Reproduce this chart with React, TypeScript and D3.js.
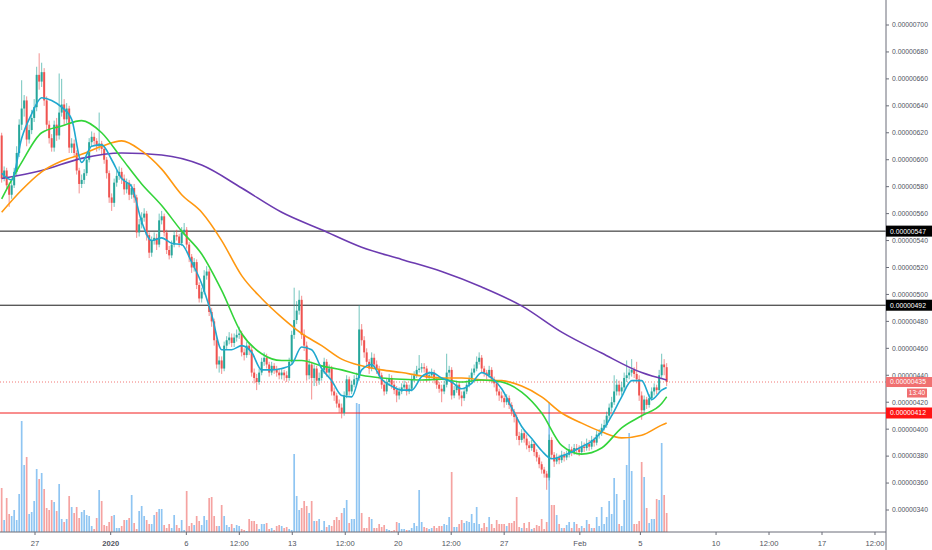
import React from "react";
import * as d3 from "d3";

// 4h candles, prices in units of 1e-8
const firstOpen = 618;
const closes = [
  586, 592, 581, 574, 581, 591, 605, 626, 638, 644,
  615, 622, 631, 639, 663, 658, 665, 644, 626, 616,
  609, 626, 618, 635, 641, 630, 638, 609, 612, 605,
  592, 582, 585, 590, 600, 613, 617, 614, 610, 612,
  608, 600, 590, 572, 568, 583, 588, 591, 586, 578,
  583, 574, 579, 572, 546, 552, 557, 560, 544, 531,
  540, 542, 537, 555, 558, 546, 533, 529, 537, 544,
  543, 538, 546, 548, 537, 528, 520, 524, 507, 497,
  502, 514, 517, 487, 480, 466, 448, 451, 445, 462,
  466, 468, 464, 468, 470, 471, 457, 455, 462, 459,
  442, 438, 435, 442, 450, 453, 448, 442, 447, 444,
  442, 440, 442, 440, 438, 450, 470, 481, 488, 496,
  470, 462, 440, 448, 438, 445, 436, 438, 444, 450,
  442, 445, 428, 425, 419, 416, 412, 425, 437, 428,
  433, 437, 438, 474, 466, 457, 450, 445, 453, 448,
  444, 440, 433, 428, 435, 438, 433, 429, 425, 428,
  431, 433, 428, 430, 437, 440, 444, 445, 446, 445,
  438, 440, 442, 437, 433, 430, 428, 433, 442, 444,
  425, 429, 433, 425, 423, 428, 433, 437, 442, 445,
  450, 453, 445, 442, 440, 444, 437, 434, 428, 425,
  423, 420, 423, 418, 413, 409, 395, 392, 397, 393,
  388, 386, 389, 383, 379, 374, 370, 367, 364, 392,
  381, 376, 379, 377, 381, 379, 381, 385, 383, 386,
  385, 383, 387, 386, 389, 387, 392, 390, 396, 397,
  401, 403, 410, 416, 420, 428, 433, 428, 431, 438,
  440, 442, 444, 441, 437, 425, 414, 422, 418, 423,
  428, 431, 429, 440, 448, 446, 435,
];
const highs = [
  620, 595, 594, 583, 584, 594, 610, 630, 659, 648,
  647, 626, 637, 645, 669, 679, 672, 668, 647, 629,
  619, 629, 631, 664, 660, 645, 642, 640, 616, 615,
  607, 594, 589, 593, 603, 616, 621, 620, 616, 635,
  614, 610, 602, 592, 575, 586, 592, 595, 594, 589,
  586, 585, 582, 582, 574, 556, 561, 564, 562, 546,
  543, 546, 545, 560, 562, 560, 548, 536, 540, 547,
  548, 545, 550, 553, 550, 539, 530, 527, 526, 509,
  505, 518, 521, 519, 490, 482, 468, 454, 454, 465,
  469, 472, 471, 471, 474, 476, 473, 460, 465, 464,
  461, 445, 441, 445, 453, 457, 456, 450, 450, 449,
  447, 445, 445, 444, 443, 453, 473, 505, 495, 503,
  499, 474, 465, 452, 450, 448, 447, 442, 447, 453,
  452, 448, 447, 431, 427, 422, 419, 428, 440, 439,
  436, 440, 442, 492, 478, 469, 460, 452, 457, 456,
  451, 447, 442, 436, 438, 441, 440, 436, 432, 431,
  434, 436, 435, 433, 440, 443, 447, 455, 449, 449,
  447, 443, 445, 444, 439, 435, 433, 436, 456, 447,
  446, 432, 436, 435, 428, 431, 436, 440, 445, 448,
  454, 457, 455, 447, 444, 447, 446, 439, 436, 430,
  428, 425, 426, 425, 420, 415, 411, 398, 400, 399,
  396, 391, 392, 391, 385, 381, 376, 372, 369, 396,
  394, 383, 382, 381, 384, 383, 384, 389, 387, 389,
  389, 388, 391, 390, 393, 392, 395, 394, 399, 400,
  404, 407, 413, 419, 424, 440, 437, 436, 435, 442,
  451, 445, 452, 446, 450, 440, 428, 425, 424, 426,
  431, 434, 433, 444, 456, 452, 449,
];
const lows = [
  583, 584, 578, 565, 571, 579, 588, 602, 622, 632,
  610, 612, 619, 628, 636, 652, 654, 640, 622, 612,
  606, 606, 614, 615, 632, 626, 627, 605, 605, 602,
  589, 575, 579, 582, 588, 598, 610, 611, 606, 607,
  604, 597, 586, 568, 562, 565, 580, 585, 582, 574,
  575, 570, 571, 568, 542, 543, 549, 554, 540, 527,
  528, 537, 533, 535, 552, 543, 530, 526, 527, 535,
  540, 535, 536, 544, 534, 524, 516, 517, 504, 494,
  494, 500, 511, 484, 476, 462, 445, 442, 441, 443,
  459, 463, 461, 461, 465, 467, 454, 451, 453, 455,
  439, 434, 429, 433, 440, 447, 445, 439, 440, 441,
  439, 437, 437, 436, 435, 436, 448, 467, 478, 485,
  467, 458, 436, 437, 422, 432, 432, 433, 436, 441,
  439, 439, 425, 421, 416, 412, 408, 410, 423, 425,
  426, 431, 434, 436, 462, 453, 447, 441, 443, 445,
  441, 437, 430, 425, 426, 432, 430, 426, 420, 422,
  426, 429, 425, 426, 428, 435, 438, 442, 442, 442,
  435, 436, 438, 434, 430, 427, 420, 426, 431, 439,
  422, 423, 427, 422, 417, 421, 426, 431, 435, 440,
  443, 448, 442, 439, 437, 438, 434, 431, 425, 421,
  420, 416, 418, 415, 410, 405, 392, 388, 390, 390,
  385, 383, 384, 380, 376, 371, 367, 364, 355, 362,
  378, 372, 374, 374, 375, 376, 377, 379, 380, 381,
  382, 380, 381, 383, 384, 384, 385, 387, 388, 393,
  395, 399, 401, 408, 413, 418, 425, 425, 425, 428,
  435, 437, 439, 438, 434, 421, 407, 411, 415, 416,
  421, 425, 426, 427, 438, 440, 432,
];
const volumes = [
  44, 12, 34, 18, 16, 22, 12, 38, 111, 67,
  75, 18, 20, 31, 63, 53, 59, 43, 24, 22,
  32, 30, 21, 48, 13, 10, 13, 36, 25, 19,
  25, 14, 20, 22, 17, 16, 6, 3, 14, 42,
  31, 7, 6, 10, 16, 17, 4, 4, 6, 12,
  12, 14, 37, 9, 3, 21, 26, 16, 12, 8,
  8, 17, 20, 23, 23, 7, 4, 8, 4, 17,
  7, 4, 12, 2, 41, 6, 9, 7, 16, 11,
  7, 16, 12, 34, 35, 16, 6, 6, 27, 16,
  7, 5, 8, 4, 7, 6, 3, 2, 1, 13,
  11, 11, 8, 3, 8, 8, 9, 3, 4, 2,
  6, 7, 6, 4, 5, 3, 2, 78, 36, 22,
  24, 31, 26, 19, 31, 11, 11, 13, 2, 11,
  5, 7, 6, 12, 15, 12,
  19, 24, 32, 9, 13, 13, 129, 128, 19, 4,
  4, 15, 13, 4, 4, 8, 5, 7, 3, 2,
  1, 2, 10, 9, 3, 3, 2, 2, 4, 9,
  6, 42, 10, 5, 4, 3, 4, 6, 4, 6,
  6, 8, 7, 15, 60, 5, 5, 8, 12, 9,
  11, 10, 18, 9, 25, 8, 4, 9, 5, 15,
  8, 4, 12, 8, 8, 8, 6, 9, 9, 11,
  35, 5, 4, 9, 4, 10, 3, 4, 7, 6,
  13, 3, 10, 130, 27, 27, 17, 8, 4, 4,
  7, 10, 4, 10, 8, 4, 6, 4, 12, 8,
  4, 4, 15, 6, 25, 8, 15, 31, 18, 54,
  38, 8, 6, 32, 67, 99, 61, 8, 8, 11,
  70, 55, 24, 9, 13, 13, 33, 32, 89, 37,
  19,
];

// moving averages, one value every `step` bars
const fastMA = [
  590, 585, 616, 634, 646, 644, 639, 630, 598, 610, 611, 600, 586, 580, 554, 540, 542,
  538, 537, 524, 508, 485, 459, 459, 462, 457, 444, 444, 445, 448, 461, 459, 445, 436,
  425, 424, 444, 448, 437, 432, 429, 429, 439, 442, 438, 435, 430, 434, 442, 438, 430,
  416, 402, 393, 384, 378, 380, 383, 387, 391, 398, 410, 424, 436, 436, 422, 429, 431,
];
const midMA = [
  571, 598, 620, 625, 629, 620, 601, 582, 566, 547, 530, 503, 471, 456, 451, 451, 447,
  444, 440, 438, 437, 436.5, 437, 435, 436.5, 435, 427.5, 412, 388, 381.5, 386, 401,
  410, 419, 424,
];
const slowMA = [
  561, 577.5, 591, 599, 604, 610, 614, 606.5, 593, 574, 561, 540, 514, 497, 483, 471,
  462, 452, 447, 444, 442, 439.5, 438, 438, 436.5, 436, 432, 424, 412, 404.5, 398,
  393.5, 395.5, 403, 404.5,
];
const longMA = [586, 592, 601, 605, 603.5, 596, 579, 561, 548, 535, 526, 517, 505.5, 491.5, 472, 456.5, 442, 436.5];

const priceTicks = [340, 360, 380, 400, 420, 440, 460, 480, 500, 520, 540, 560, 580, 600, 620, 640, 660, 680, 700];
const dateTicks = [
  "2019-12-27T00:00Z", "2020-01-01T00:00Z", "2020-01-06T00:00Z", "2020-01-09T12:00Z",
  "2020-01-13T00:00Z", "2020-01-16T12:00Z", "2020-01-20T00:00Z", "2020-01-23T12:00Z",
  "2020-01-27T00:00Z", "2020-02-01T00:00Z", "2020-02-05T00:00Z", "2020-02-10T00:00Z",
  "2020-02-13T12:00Z", "2020-02-17T00:00Z", "2020-02-20T12:00Z",
];
const dateLabels = ["27", "2020", "6", "12:00", "13", "12:00", "20", "12:00", "27", "Feb", "5", "10", "12:00", "17", "12:00"];

const levels = [547, 492];
const support = 412;
const lastPrice = 435;
const countdown = "13:40";

const W = 932;
const H = 550;
const AX = 886;
const AY = 532;
const UP = "#26a69a";
const DOWN = "#ef5350";
const FONT = "'Liberation Sans', Arial, sans-serif";

export default function App() {
  const N = closes.length;
  const x = d3.scaleLinear().domain([0, N - 1]).range([1.67, 1.67 + 2.5 * (N - 1)]);
  const y = d3.scaleLinear().domain([340, 700]).range([510, 25]);
  const yv = d3.scaleLinear().domain([0, 130]).range([AY, AY - 130]);
  const xt = d3
    .scaleUtc()
    .domain([new Date("2019-12-27T00:00Z"), new Date("2020-02-17T00:00Z")])
    .range([35, 822]);
  const opens = closes.map((c, i) => (i === 0 ? firstOpen : closes[i - 1]));
  const fmt = (v: number) => (v / 1e8).toFixed(8);

  const maPath = (vals: number[], step: number) =>
    d3
      .line<number>()
      .x((_, k) => x(Math.min(k * step, N - 1)))
      .y((v) => y(v))
      .curve(d3.curveMonotoneX)(vals) || "";

  const mas = [
    { vals: longMA, step: 16, color: "#6c3bb0" },
    { vals: slowMA, step: 8, color: "#ff9810" },
    { vals: midMA, step: 8, color: "#33d43a" },
    { vals: fastMA, step: 4, color: "#1fa8cf" },
  ];

  return (
    <svg
      width={W}
      height={H}
      style={{ position: "absolute", left: 0, top: 0, background: "#fff", fontFamily: FONT }}
    >
      <defs>
        <clipPath id="plot">
          <rect x={0} y={0} width={AX} height={AY} />
        </clipPath>
      </defs>
      <rect width={W} height={H} fill="#fff" />

      <g clipPath="url(#plot)">
        {/* volume */}
        {volumes.map((v, i) => (
          <rect
            key={"v" + i}
            x={x(i) - 0.85}
            width={1.7}
            y={yv(v)}
            height={AY - yv(v)}
            fill={closes[i] >= opens[i] ? "#8fc5f2" : "#f5a3a1"}
          />
        ))}

        {/* horizontal levels */}
        {levels.map((l) => (
          <line key={"l" + l} x1={0} x2={AX} y1={y(l)} y2={y(l)} stroke="#1a1a1a" strokeWidth={1} />
        ))}
        <line x1={0} x2={AX} y1={y(support)} y2={y(support)} stroke="#f21c1c" strokeWidth={1} />
        <line
          x1={0}
          x2={AX}
          y1={y(lastPrice)}
          y2={y(lastPrice)}
          stroke={DOWN}
          strokeWidth={0.8}
          strokeDasharray="1,2"
        />

        {/* candles */}
        {closes.map((c, i) => {
          const o = opens[i];
          const col = c >= o ? UP : DOWN;
          const top = y(Math.max(o, c));
          const h = Math.max(0.8, Math.abs(y(o) - y(c)));
          return (
            <g key={"c" + i}>
              <line x1={x(i)} x2={x(i)} y1={y(highs[i])} y2={y(lows[i])} stroke={col} strokeWidth={0.8} opacity={0.8} />
              <rect x={x(i) - 1} width={2} y={top} height={h} fill={col} />
            </g>
          );
        })}

        {/* moving averages */}
        {mas.map((m, k) => (
          <path key={"m" + k} d={maPath(m.vals, m.step)} fill="none" stroke={m.color} strokeWidth={1.6} />
        ))}
      </g>

      {/* axes */}
      <line x1={AX} x2={AX} y1={0} y2={H} stroke="#6a6d78" strokeWidth={1} />
      <line x1={0} x2={AX} y1={AY} y2={AY} stroke="#6a6d78" strokeWidth={1} />

      {priceTicks.map((p) => (
        <g key={"p" + p}>
          <line x1={AX} x2={AX + 3} y1={y(p)} y2={y(p)} stroke="#6a6d78" />
          <text x={AX + 6} y={y(p)} dy="0.35em" fontSize={6.8} fill="#50535e">
            {fmt(p)}
          </text>
        </g>
      ))}

      {dateTicks.map((d, i) => {
        const px = xt(new Date(d));
        const bold = dateLabels[i] === "2020";
        return (
          <g key={"d" + i}>
            <line x1={px} x2={px} y1={AY} y2={AY + 3} stroke="#6a6d78" />
            <text
              x={px}
              y={AY + 14}
              textAnchor="middle"
              fontSize={7.6}
              fontWeight={bold ? "bold" : "normal"}
              fill="#50535e"
            >
              {dateLabels[i]}
            </text>
          </g>
        );
      })}

      {/* price labels on the axis */}
      {levels.map((l) => (
        <g key={"lb" + l}>
          <rect x={AX} y={y(l) - 5.5} width={W - AX} height={11} fill="#000" />
          <text x={AX + 4} y={y(l)} dy="0.35em" fontSize={6.8} fill="#fff">
            {fmt(l)}
          </text>
        </g>
      ))}
      <rect x={AX} y={y(lastPrice) - 5} width={W - AX} height={10} fill="#f07070" />
      <text x={AX + 4} y={y(lastPrice)} dy="0.35em" fontSize={6.8} fill="#fff">
        {fmt(lastPrice)}
      </text>
      <rect x={AX + 21} y={y(lastPrice) + 6.5} width={20} height={9} fill="#f07070" />
      <text x={AX + 31} y={y(lastPrice) + 11} dy="0.35em" fontSize={6.5} fill="#fff" textAnchor="middle">
        {countdown}
      </text>
      <rect x={AX} y={y(support) - 5.5} width={W - AX} height={11} fill="#ff1414" />
      <text x={AX + 4} y={y(support)} dy="0.35em" fontSize={6.8} fill="#fff">
        {fmt(support)}
      </text>
    </svg>
  );
}
